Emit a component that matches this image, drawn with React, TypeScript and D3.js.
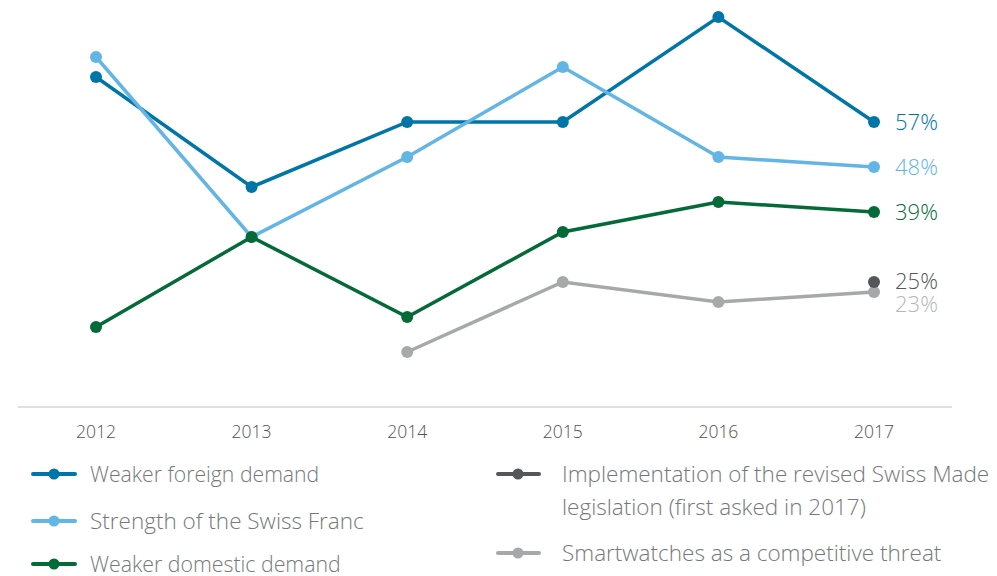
import React from "react";
import * as d3 from "d3";

const years = [2012, 2013, 2014, 2015, 2016, 2017];
const foreignDemand = [66, 44, 57, 57, 78, 57];
const swissFranc = [70, 34, 50, 68, 50, 48];
const domesticDemand = [16, 34, 18, 35, 41, 39];
const smartwatches: (number | null)[] = [null, null, 11, 25, 21, 23];
const swissMade: (number | null)[] = [null, null, null, null, null, 25];

const seriesNames = [
  "Weaker foreign demand",
  "Strength of the Swiss Franc",
  "Weaker domestic demand",
  "Implementation of the revised Swiss Made legislation (first asked in 2017)",
  "Smartwatches as a competitive threat",
];
const colors = ["#0076A8", "#62B5E5", "#046A38", "#53565A", "#A7A8AA"];

const W = 997;
const H = 576;
const FONT = "'Open Sans', 'Noto Sans', sans-serif";

export default function App() {
  const x = d3.scaleLinear().domain([2012, 2017]).range([96, 874]);
  const y = d3.scaleLinear().domain([0, 57]).range([407, 122]);

  const all = [
    { name: seriesNames[0], values: foreignDemand, color: colors[0] },
    { name: seriesNames[1], values: swissFranc, color: colors[1] },
    { name: seriesNames[2], values: domesticDemand, color: colors[2] },
    { name: seriesNames[4], values: smartwatches, color: colors[4] },
    { name: seriesNames[3], values: swissMade, color: colors[3] },
  ];

  const line = d3
    .line<{ yr: number; v: number | null }>()
    .defined((d) => d.v != null)
    .x((d) => x(d.yr))
    .y((d) => y(d.v as number));

  const endLabels = [
    { v: foreignDemand[5], color: colors[0], dy: 0 },
    { v: swissFranc[5], color: colors[1], dy: 0 },
    { v: domesticDemand[5], color: colors[2], dy: 0 },
    { v: swissMade[5] as number, color: colors[3], dy: -1 },
    { v: smartwatches[5] as number, color: "#B5B6B8", dy: 12 },
  ];

  const legendLeft = [
    { label: [seriesNames[0]], color: colors[0], y: 474, fs: 21.2 },
    { label: [seriesNames[1]], color: colors[1], y: 521, fs: 22.5 },
    { label: [seriesNames[2]], color: colors[2], y: 564, fs: 21.3 },
  ];
  const legendRight = [
    {
      label: ["Implementation of the revised Swiss Made", "legislation (first asked in 2017)"],
      color: colors[3],
      y: 474,
    },
    { label: [seriesNames[4]], color: colors[4], y: 553 },
  ];

  return (
    <svg
      width={W}
      height={H}
      style={{ position: "absolute", left: 0, top: 0, background: "#fff" }}
      fontFamily={FONT}
    >
      <line x1={18} x2={952} y1={y(0)} y2={y(0)} stroke="#E0E0E0" strokeWidth={2} />
      {years.map((yr) => (
        <text
          key={yr}
          x={x(yr)}
          y={438}
          textAnchor="middle"
          fontSize={17.5}
          fill="#4F5256"
          fontWeight={300}
        >
          {yr}
        </text>
      ))}
      {all.map((s) => {
        const pts = years.map((yr, i) => ({ yr, v: s.values[i] }));
        return (
          <g key={s.name}>
            <path d={line(pts) || ""} fill="none" stroke={s.color} strokeWidth={3.5} />
            {pts
              .filter((p) => p.v != null)
              .map((p) => (
                <circle key={p.yr} cx={x(p.yr)} cy={y(p.v as number)} r={6} fill={s.color} />
              ))}
          </g>
        );
      })}
      {endLabels.map((l, i) => (
        <text
          key={i}
          x={895}
          y={y(l.v) + 8 + l.dy}
          fontSize={22}
          fill={l.color}
          fontWeight={300}
        >
          {l.v}%
        </text>
      ))}
      {legendLeft.map((l) => (
        <g key={l.label[0]}>
          <line x1={33} x2={75} y1={l.y} y2={l.y} stroke={l.color} strokeWidth={4} strokeLinecap="round" />
          <circle cx={54} cy={l.y} r={5.5} fill={l.color} />
          <text x={90} y={l.y + 8} fontSize={l.fs} fill="#75787B" fontWeight={300}>
            {l.label[0]}
          </text>
        </g>
      ))}
      {legendRight.map((l) => (
        <g key={l.label[0]}>
          <line x1={498} x2={539} y1={l.y} y2={l.y} stroke={l.color} strokeWidth={4} strokeLinecap="round" />
          <circle cx={518} cy={l.y} r={5.5} fill={l.color} />
          {l.label.map((t, k) => (
            <text key={k} x={562} y={l.y + 8 + k * 33} fontSize={22.5} fill="#75787B" fontWeight={300}>
              {t}
            </text>
          ))}
        </g>
      ))}
    </svg>
  );
}
